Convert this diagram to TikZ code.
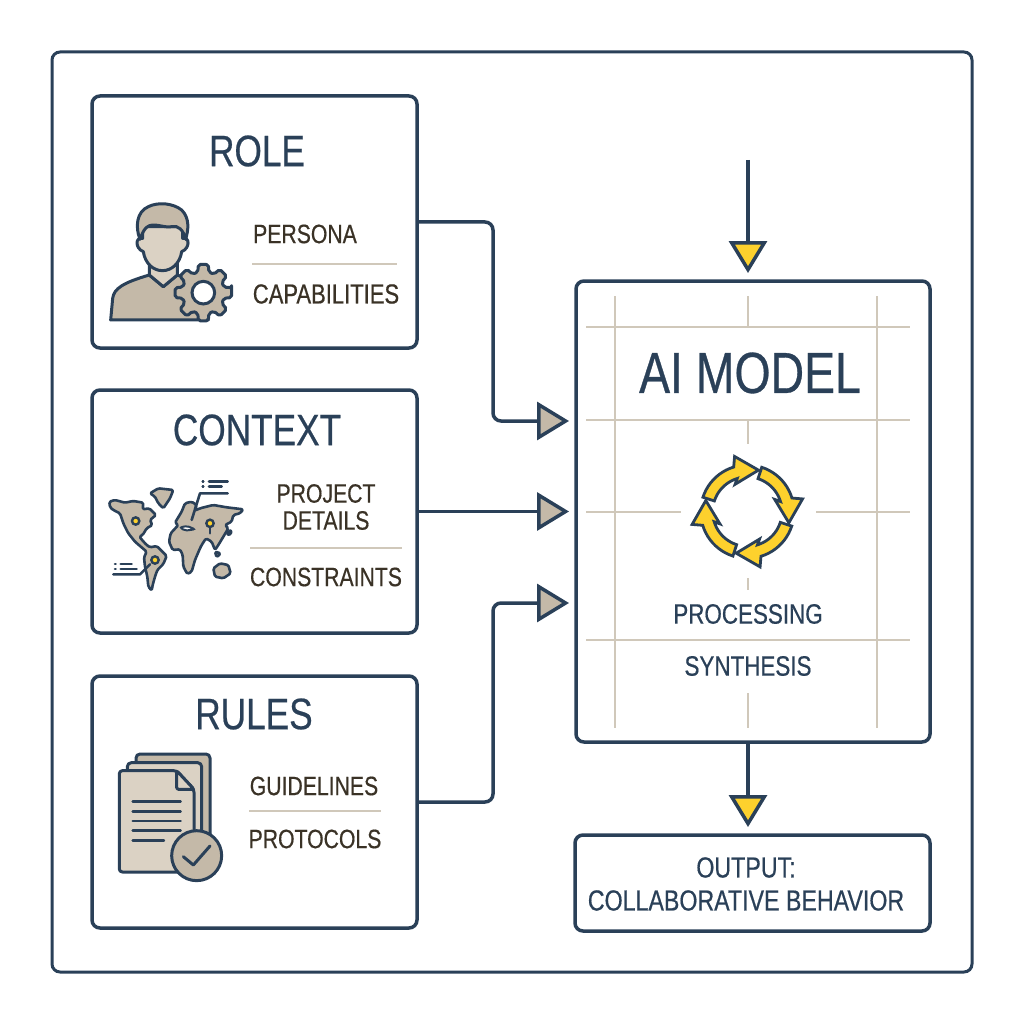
\documentclass[tikz,border=0pt]{standalone}
\usepackage{fontspec}
\setmainfont[FakeStretch=0.8, FakeBold=0.5]{Liberation Sans}
\usetikzlibrary{arrows.meta, calc}
\definecolor{navy}{RGB}{42, 64, 88}
\definecolor{tanfill}{RGB}{196, 185, 168}
\definecolor{tanlight}{RGB}{219, 210, 196}
\definecolor{gridtan}{RGB}{208, 200, 186}
\definecolor{brownink}{RGB}{58, 50, 38}
\definecolor{sunyellow}{RGB}{253, 209, 45}

\begin{document}
\begin{tikzpicture}[
    x=1pt, y=-1pt,
    panel/.style={rectangle, draw=navy, fill=white, line width=3.5pt, rounded corners=8pt, inner sep=0pt, outer sep=0pt},
    title/.style={text=navy, font=\fontsize{44}{48}\selectfont},
    item/.style={text=brownink, font=\fontsize{26.5}{28}\selectfont, align=center},
    modelitem/.style={text=navy, font=\fontsize{28}{30}\selectfont, align=center},
    rule/.style={gridtan, line width=1.6pt},
    gridline/.style={gridtan, line width=1.8pt},
    icon/.style={draw=navy, fill=tanfill, line width=3pt, line join=round},
    iconlight/.style={icon, fill=tanlight},
    inkline/.style={navy, line width=3pt, line cap=round},
    mapline/.style={navy, line width=2.6pt, line cap=round, line join=round},
    mapland/.style={icon, line width=2.6pt, rounded corners=1.5pt},
    pin/.style={draw=navy, fill=sunyellow, line width=2.4pt},
    cyclearrow/.style={draw=navy, fill=sunyellow, line width=2.8pt, line join=miter},
    link/.style={navy, line width=3.5pt, rounded corners=8pt, -{Triangle[length=32pt, width=38pt, fill=tanfill]}},
    flow/.style={navy, line width=3.5pt, -{Triangle[length=32pt, width=38pt, fill=sunyellow]}}
]
\useasboundingbox[fill=white] (0,0) rectangle (1024,1024);

% outer frame
\node[panel, line width=3pt, minimum width=920pt, minimum height=920pt] (frame) at (512,512) {};

% Role box
\node[panel, minimum width=325pt, minimum height=252pt] (role) at (254.5,222) {};
\node[title] (roletitle) at (257,151) {ROLE};
\node[item] (persona) at (305,234) {PERSONA};
\node[item, font=\fontsize{27.5}{28}\selectfont] (capabilities) at (326,294) {CAPABILITIES};
\draw[rule] (252,264) -- (397,264);

% person and gear
\begin{scope}[shift={(90,180)}, scale=1/3]
    \draw[icon] (62,420) -- (68,355) .. controls (72,325) and (100,308) .. (178,285) -- (220,320) -- (262,285) -- (300,300) -- (355,420) -- cycle;
    \draw[iconlight] (178,285) -- (178,235) -- (262,235) -- (262,285) -- (220,320) -- cycle;
    \draw[iconlight] (158,140) -- (158,175) .. controls (135,170) and (135,205) .. (160,215) .. controls (165,250) and (190,272) .. (217,272) .. controls (245,272) and (270,250) .. (275,215) .. controls (300,205) and (300,170) .. (278,175) -- (278,140) -- cycle;
    \draw[icon] (150,178) .. controls (135,140) and (140,95) .. (175,80) .. controls (205,65) and (250,70) .. (275,90) .. controls (300,115) and (295,150) .. (287,178) .. controls (280,150) and (265,135) .. (245,140) .. controls (220,145) and (190,125) .. (170,142) .. controls (160,150) and (155,165) .. (150,178) -- cycle;
    \draw[icon, rounded corners=2pt]
        ($(340,338)+(-10:86)$)
        \foreach \a in {0,45,...,315} {
            -- ($(340,338)+(\a-10:86)$) -- ($(340,338)+(\a+10:86)$) -- ($(340,338)+(\a+15:64)$) -- ($(340,338)+(\a+30:64)$)
        } -- cycle;
    \draw[navy, fill=white, line width=3pt] (340,338) circle (34);
\end{scope}

% Context box
\node[panel, minimum width=325pt, minimum height=243pt] (context) at (254.5,511.5) {};
\node[title] (contexttitle) at (257,430) {CONTEXT};
\node[item] (details) at (326,507) {PROJECT\\[-1pt]DETAILS};
\node[item] (constraints) at (326,577) {CONSTRAINTS};
\draw[rule] (250,548) -- (402,548);

% world map
\begin{scope}[shift={(100,470)}, scale=1/3]
    \draw[mapland] (28,95) -- (45,90) -- (75,98) -- (100,93) -- (130,98) -- (128,118) -- (148,115) -- (168,135) -- (150,150) -- (157,165) -- (140,175) -- (128,195) -- (118,200) -- (128,212) -- (140,225) -- (150,232) -- (170,228) -- (200,258) -- (190,282) -- (172,300) -- (165,320) -- (158,345) -- (155,362) -- (145,350) -- (142,320) -- (135,290) -- (132,262) -- (140,245) -- (120,228) -- (105,215) -- (85,190) -- (70,160) -- (60,130) -- (40,120) -- (30,112) -- cycle;
    \draw[mapland] (150,70) -- (175,55) -- (220,60) -- (210,85) -- (190,115) -- (175,100) -- (165,80) -- cycle;
    \draw[mapland] (207,215) -- (212,190) -- (235,165) -- (225,158) -- (245,125) -- (255,100) -- (275,95) -- (290,105) -- (284,122) -- (300,115) -- (340,105) -- (380,112) -- (430,118) -- (420,130) -- (400,135) -- (395,155) -- (375,165) -- (385,175) -- (370,200) -- (355,225) -- (345,240) -- (335,215) -- (318,205) -- (305,225) -- (300,235) -- (285,270) -- (275,305) -- (262,312) -- (250,290) -- (248,255) -- (240,238) -- (218,240) -- cycle;
    \draw[mapland] (340,295) -- (360,280) -- (385,285) -- (392,310) -- (370,325) -- (345,320) -- cycle;
    \draw[mapland] (345,245) -- (362,250) -- (350,262) -- cycle;
    \draw[mapland] (380,195) -- (392,178) -- (394,192) -- cycle;
    \draw[navy, fill=white, line width=2pt, rounded corners=2pt] (240,172) -- (262,168) -- (285,178) -- (255,182) -- cycle;
    \draw[mapline] (330,165) -- (330,190);
    \draw[pin] (107,153) circle (11);
    \draw[pin] (165,270) circle (11);
    \draw[pin] (330,160) circle (11);
    \draw[mapline] (308,35) -- (310,35);
    \draw[mapline] (308,50) -- (310,50);
    \draw[mapline] (327,35) -- (383,35);
    \draw[mapline] (327,50) -- (365,50);
    \draw[mapline] (383,70) -- (300,70) -- (275,150);
    \draw[mapline] (45,282) -- (47,282);
    \draw[mapline] (45,297) -- (47,297);
    \draw[mapline] (62,282) -- (95,282);
    \draw[mapline] (62,297) -- (110,297);
    \draw[mapline] (40,313) -- (120,313) -- (150,283);
\end{scope}

% Rules box
\node[panel, minimum width=325pt, minimum height=252pt] (rules) at (254.5,802) {};
\node[title] (rulestitle) at (254,714) {RULES};
\node[item] (guidelines) at (314,786) {GUIDELINES};
\node[item] (protocols) at (315,839) {PROTOCOLS};
\draw[rule] (249,811) -- (381,811);

% stacked pages
\begin{scope}[shift={(100,740)}, scale=1/3]
    \draw[icon, rounded corners=4pt] (108,42) rectangle (330,300);
    \draw[iconlight, rounded corners=4pt] (82,68) rectangle (305,330);
    \draw[iconlight, rounded corners=3pt] (58,92) -- (230,92) -- (282,148) -- (282,396) -- (58,396) -- cycle;
    \draw[iconlight, rounded corners=2pt] (230,92) -- (230,148) -- (282,148) -- cycle;
    \foreach \y in {185,214,243,272} {
        \draw[inkline, line width=2.4pt] (98,\y) -- (242,\y);
    }
    \draw[inkline, line width=2.4pt] (98,301) -- (192,301);
    \draw[icon] (290,347) circle (75);
    \draw[inkline, line join=round] (250,350) -- (280,375) -- (330,318);
\end{scope}

% AI model box
\node[panel, minimum width=354pt, minimum height=461pt] (model) at (753,511.5) {};
\foreach \x in {615,877} {
    \draw[gridline] (\x,296) -- (\x,728);
}
\draw[gridline] (748,296) -- (748,327);
\draw[gridline] (748,420) -- (748,444);
\draw[gridline] (748,578) -- (748,590);
\draw[gridline] (748,693) -- (748,728);
\draw[gridline] (586,327) -- (910,327);
\draw[gridline] (586,420) -- (910,420);
\draw[gridline] (586,512) -- (681,512);
\draw[gridline] (816,512) -- (910,512);
\draw[gridline] (586,640) -- (910,640);
\node[text=navy, font=\fontsize{58}{60}\selectfont] (modeltitle) at (750,373) {AI MODEL};
\node[modelitem] (processing) at (748,614) {PROCESSING};
\node[modelitem] (synthesis) at (748,666) {SYNTHESIS};

% cycle arrows
\begin{scope}[shift={(670,440)}, scale=1/3]
    \foreach \r in {0,-90,-180,-270} {
        \draw[cyclearrow, shift={(232,215)}, rotate=\r]
            plot[domain=-162:-107, samples=12] (\x:140) -- (-103:170) -- (-75:129) -- (-114:90) -- (-107:104)
            -- plot[domain=-107:-162, samples=12] (\x:104) -- cycle;
    }
\end{scope}

% Output box
\node[panel, minimum width=355pt, minimum height=96pt] (output) at (752.5,883) {};
\node[text=navy, font=\fontsize{29}{33}\selectfont, align=center] (outputtext) at (746,884) {OUTPUT:\\COLLABORATIVE BEHAVIOR};

% connectors
\coordinate (inA) at (569,421);
\coordinate (inB) at (569,511.5);
\coordinate (inC) at (569,603);
\coordinate (topstart) at (748,160);
\coordinate (topend) at (748,273);
\coordinate (modelfoot) at (748,742);
\coordinate (outend) at (748,827);

\draw[link] (role.east) -| ($(role.east)!0.5!(inA)$) |- (inA);
\draw[link] (context.east) -- (inB);
\draw[link] (rules.east) -| ($(rules.east)!0.5!(inC)$) |- (inC);
\draw[flow] (topstart) -- (topend);
\draw[flow] (modelfoot) -- (outend);

\end{tikzpicture}
\end{document}
